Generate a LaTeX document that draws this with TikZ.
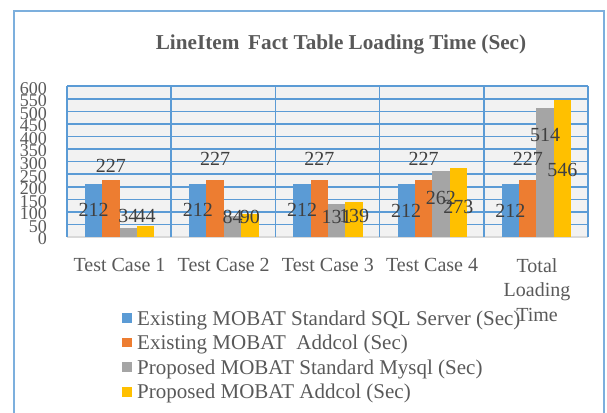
\documentclass[tikz,border=0pt]{standalone}
\usepackage{fontspec}
\setmainfont{Liberation Serif}
\definecolor{barblue}{HTML}{5B9BD5}
\definecolor{barorange}{HTML}{ED7D31}
\definecolor{bargray}{HTML}{A5A5A5}
\definecolor{baryellow}{HTML}{FFC000}
\definecolor{gridblue}{HTML}{5B9BD5}
\definecolor{plotbg}{HTML}{F2F2F2}
\definecolor{txtgray}{HTML}{595959}
\definecolor{valgray}{HTML}{404040}
\tikzset{
  frameline/.style={draw=gridblue!80, line width=1.6pt},
  gridline/.style={draw=gridblue, line width=1.6pt},
  axislab/.style={inner sep=0pt, text=txtgray, font=\fontsize{18}{18}\selectfont, anchor=east},
  catlab/.style={inner sep=0pt, text=txtgray, font=\fontsize{20}{24.5}\selectfont, anchor=base, align=center},
  vallab/.style={inner sep=0pt, text=valgray, font=\fontsize{20}{20}\selectfont},
  legkey/.style={inner sep=0pt, minimum size=9.5pt},
  legtext/.style={inner sep=0pt, text=txtgray, font=\fontsize{21}{21}\selectfont, anchor=base west},
  titlelab/.style={inner sep=0pt, text=txtgray, font=\bfseries\fontsize{21.2}{21.2}\selectfont, anchor=base}
}
\begin{document}
\begin{tikzpicture}[x=1pt, y=-1pt]
\useasboundingbox (0,0) rectangle (607,412);
% chart frame (runs past the lower edge)
\draw[frameline] (14,430) -- (14,11) -- (604,11) -- (604,430);
% title
\node[titlelab] (title) at (341,50) {LineItem\, Fact Table Loading Time (Sec)};
% plot area and grid
\fill[plotbg] (67,86) rectangle (588,237);
\foreach \k in {1,...,12}
  \draw[gridline] (67,{237-\k*12.5667}) -- (588,{237-\k*12.5667});
\draw[draw=black!15, line width=1.2pt] (67,237) -- (588,237);
\foreach \i in {0,...,5}
  \draw[gridline] ({67+\i*104.2},86) -- ({67+\i*104.2},237);
% value axis labels
\foreach \k in {0,...,12}{
  \pgfmathtruncatemacro\lab{\k*50}
  \node[axislab] (ylab\k) at (47,{239-\k*12.5667}) {\lab};
}
% data: group / four values / four label heights
\def\chartdata{
    1/212/227/34/44/210/166/216/216,
    2/212/227/84/90/210/159/217/217,
    3/212/227/131/139/210/159/217/216,
    4/212/227/262/273/211/159/198/207,
    5/212/227/514/546/211/159/135/170}
% bars
\foreach \g/\a/\b/\c/\d/\ya/\yb/\yc/\yd in \chartdata{
  \foreach \s/\v/\col in {0/\a/barblue, 1/\b/barorange, 2/\c/bargray, 3/\d/baryellow}{
    \pgfmathsetmacro\xl{67+(\g-1)*104.2+17.9+\s*17.35}
    \fill[\col] (\xl,237) rectangle ++(17.35,{-\v*0.251333});
  }
}
% data labels, above all bars
\foreach \g/\a/\b/\c/\d/\ya/\yb/\yc/\yd in \chartdata{
  \foreach \s/\v/\ly in {0/\a/\ya, 1/\b/\yb, 2/\c/\yc, 3/\d/\yd}{
    \pgfmathsetmacro\xl{67+(\g-1)*104.2+17.9+\s*17.35}
    \node[vallab] (val\g-\s) at ({\xl+8.7},\ly) {\v};
  }
}
% category labels
\node[catlab] (cat1) at (119.5,271) {Test Case 1};
\node[catlab] (cat2) at (223.7,271) {Test Case 2};
\node[catlab] (cat3) at (327.9,271) {Test Case 3};
\node[catlab] (cat4) at (432.1,271) {Test Case 4};
\node[catlab] (cat5) at (537,321) {Total\\Loading\\Time};
% legend
\foreach \r/\col/\txt in {
    0/barblue/{Existing MOBAT Standard SQL Server (Sec)},
    1/barorange/{Existing MOBAT\ \ Addcol (Sec)},
    2/bargray/{Proposed MOBAT Standard Mysql (Sec)},
    3/baryellow/{Proposed MOBAT Addcol (Sec)}}{
  \node[legkey, fill=\col] (key\r) at (127,{318+\r*24.6}) {};
  \node[legtext] (leg\r) at (137,{325+\r*24.6}) {\txt};
}
\end{tikzpicture}
\end{document}
